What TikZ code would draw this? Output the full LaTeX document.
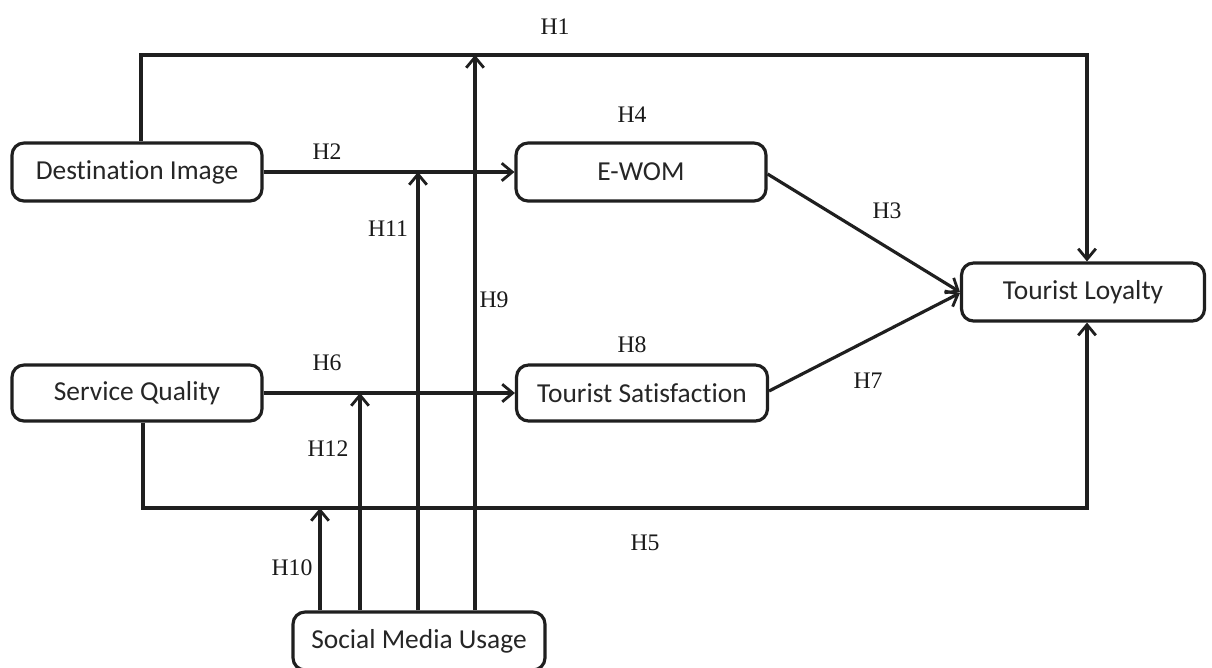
\documentclass[tikz,border=0pt]{standalone}
\usepackage{fontspec}
\setmainfont{Liberation Serif}
\newfontfamily\boxfont[Ligatures=NoCommon]{Carlito}
\usetikzlibrary{arrows.meta}
\begin{document}
\begin{tikzpicture}[x=0.02cm,y=-0.02cm,
  box/.style={draw=black!88,line width=1.8pt,rounded corners=0.24cm,fill=white,
    minimum width=5cm,minimum height=1.16cm,inner sep=0pt,
    font=\boxfont\fontsize{15.6}{18}\selectfont,text=black!85},
  conn/.style={draw=black!88,line width=1.8pt},
  arr/.style={conn,-{Straight Barb[length=6pt,width=10pt,line width=1.6pt]}},
  hl/.style={font=\fontsize{13.5}{15}\selectfont,text=black!90}]
\useasboundingbox (0,0) rectangle (1212,667);
\clip (0,0) rectangle (1212,667);
% nodes
\node[box] (DI) at (137,172) {Destination Image};
\node[box] (EW) at (641,172) {E-WOM};
\node[box,minimum width=4.86cm] (TL) at (1083,292) {Tourist Loyalty};
\node[box,minimum height=1.12cm] (SQ) at (137,393) {Service Quality};
\node[box,minimum width=5.02cm,minimum height=1.12cm] (TS) at (642,393) {Tourist Satisfaction};
\node[box,minimum width=5.04cm] (SMU) at (419,641) {Social Media Usage};
% coordinates
\coordinate (h1a) at (141,55);
\coordinate (h1b) at (1087,55);
\coordinate (h5a) at (143,508);
\coordinate (h5b) at (1087,508);
\coordinate (m10) at (320,508);
\coordinate (m12) at (360,393);
\coordinate (m11) at (418,172);
\coordinate (m9) at (475,55);
% connectors
\draw[arr] (DI.north -| h1a) -- (h1a) -- (h1b) -- (TL.north -| h1b);
\draw[arr] (SQ.south -| h5a) -- (h5a) -- (h5b) -- (TL.south -| h5b);
\draw[arr] (DI.east) -- (EW.west);
\draw[arr] (SQ.east) -- (TS.west);
\draw[arr] ([yshift=-0.04cm]EW.east) -- ([yshift=0.0cm]TL.west);
\draw[arr] ([yshift=0.04cm]TS.east) -- ([yshift=-0.02cm]TL.west);
\draw[arr] (SMU.north -| m10) -- (m10);
\draw[arr] (SMU.north -| m12) -- (m12);
\draw[arr] (SMU.north -| m11) -- (m11);
\draw[arr] (SMU.north -| m9) -- (m9);
% labels
\node[hl] (H1) at (555,27) {H1};
\node[hl] (H2) at (327,152) {H2};
\node[hl] (H3) at (887,211) {H3};
\node[hl] (H4) at (632,115) {H4};
\node[hl] (H5) at (645,543) {H5};
\node[hl] (H6) at (327,363) {H6};
\node[hl] (H7) at (868,381) {H7};
\node[hl] (H8) at (632,345) {H8};
\node[hl] (H9) at (494,300) {H9};
\node[hl] (H10) at (292,568) {H10};
\node[hl] (H11) at (388,229) {H11};
\node[hl] (H12) at (328,449) {H12};
\end{tikzpicture}
\end{document}
